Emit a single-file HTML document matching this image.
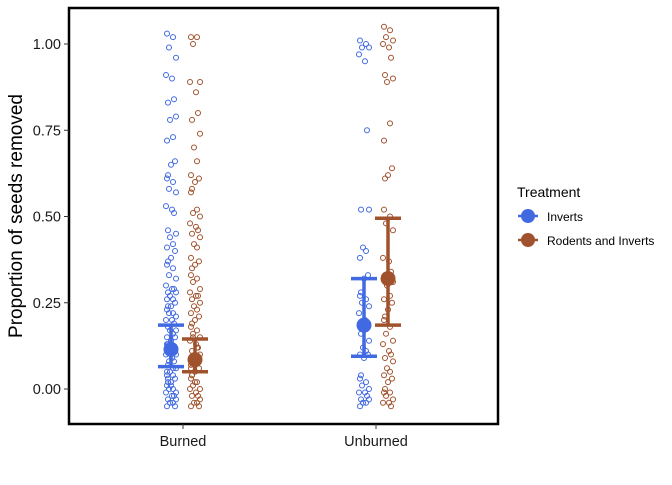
<!DOCTYPE html>
<html><head><meta charset="utf-8"><style>
body{margin:0;background:#fff;font-family:"Liberation Sans",sans-serif}
</style></head><body>
<svg id="chart" width="672" height="480" xmlns="http://www.w3.org/2000/svg">
<rect x="0" y="0" width="672" height="480" fill="#fff"/>
<g id="plot"></g>
<rect x="69" y="8" width="429" height="416" fill="none" stroke="#000" stroke-width="2.5"/>
<g id="axes" font-size="14.5" fill="#1a1a1a"></g>
<text x="22" y="216" transform="rotate(-90 22 216)" text-anchor="middle" font-size="19" fill="#000">Proportion of seeds removed</text>
<g>
<text x="517" y="197" font-size="14" fill="#000">Treatment</text>
<circle cx="528" cy="216" r="7" fill="#4169E1"/>
<line x1="518" y1="216" x2="538" y2="216" stroke="#4169E1" stroke-width="2.5"/>
<text x="547" y="221" font-size="12" fill="#000">Inverts</text>
<circle cx="528" cy="240" r="7" fill="#A0522D"/>
<line x1="518" y1="240" x2="538" y2="240" stroke="#A0522D" stroke-width="2.5"/>
<text x="547" y="245" font-size="12" fill="#000">Rodents and Inverts</text>
</g>
</svg>
<script>
const categories=["Burned","Unburned"];
const treatments=["Inverts","Rodents and Inverts"];
const yTicks=[0,0.25,0.5,0.75,1.0];
const yTickLabels=["0.00","0.25","0.50","0.75","1.00"];
const means=[[0.115,0.085],[0.185,0.32]];
const ciLow=[[0.065,0.05],[0.095,0.185]];
const ciHigh=[[0.185,0.145],[0.32,0.495]];
const burnedInverts=[1.03,1.02,0.99,0.96,0.91,0.90,0.84,0.83,0.79,0.78,0.73,0.72,0.66,0.65,0.62,0.61,0.60,0.58,0.57,0.53,0.52,0.51,0.46,0.45,0.44,0.42,0.41,0.40,0.38,0.37,0.36,0.35,0.33,0.32,0.30,0.29,0.29,0.28,0.28,0.27,0.26,0.26,0.25,0.24,0.24,0.23,0.22,0.22,0.21,0.20,0.20,0.19,0.18,0.17,0.17,0.16,0.15,0.15,0.14,0.13,0.13,0.12,0.11,0.10,0.10,0.09,0.08,0.07,0.06,0.05,0.04,0.04,0.03,0.02,0.02,0.01,0.0,0.0,-0.01,-0.01,-0.02,-0.02,-0.03,-0.03,-0.04,-0.04,-0.05,-0.05,0.01,0.03,0.05,0.06,0.08];
const burnedRodents=[1.02,1.02,1.00,0.89,0.89,0.86,0.80,0.78,0.74,0.70,0.66,0.62,0.61,0.60,0.58,0.57,0.52,0.51,0.50,0.48,0.47,0.46,0.45,0.44,0.42,0.41,0.38,0.37,0.36,0.35,0.33,0.32,0.31,0.29,0.28,0.27,0.27,0.26,0.25,0.24,0.23,0.22,0.21,0.20,0.19,0.18,0.17,0.16,0.15,0.14,0.13,0.12,0.11,0.10,0.09,0.08,0.07,0.06,0.05,0.04,0.03,0.02,0.01,0.0,0.0,-0.01,-0.02,-0.02,-0.03,-0.04,-0.04,-0.05,-0.05,0.02,0.04,0.06,0.12,0.15];
const unburnedInverts=[1.01,1.00,0.99,0.99,0.97,0.95,0.75,0.52,0.52,0.41,0.40,0.38,0.33,0.32,0.28,0.27,0.26,0.25,0.24,0.22,0.20,0.18,0.16,0.14,0.12,0.11,0.10,0.10,0.09,0.04,0.03,0.02,0.01,0.0,-0.01,-0.01,-0.02,-0.03,-0.03,-0.04,-0.04,-0.05];
const unburnedRodents=[1.05,1.04,1.02,1.01,1.00,0.99,0.96,0.91,0.90,0.89,0.77,0.72,0.64,0.62,0.61,0.52,0.50,0.48,0.46,0.38,0.37,0.34,0.33,0.31,0.30,0.27,0.26,0.25,0.23,0.21,0.20,0.18,0.16,0.14,0.13,0.11,0.10,0.09,0.08,0.06,0.05,0.04,0.03,0.02,0.00,-0.01,-0.01,-0.02,-0.03,-0.04,-0.04,-0.05];
const series=[[burnedInverts,burnedRodents],[unburnedInverts,unburnedRodents]];
const colors=["#4169E1","#A0522D"];
const NS="http://www.w3.org/2000/svg";
function yScale(v){return 389-v*345;}
function xScale(ci,ti){return 183+ci*193+(ti===0?-12:12);}
const plot=document.getElementById('plot'),axes=document.getElementById('axes');
function mk(tag,a,parent){const e=document.createElementNS(NS,tag);for(const k in a)e.setAttribute(k,a[k]);parent.appendChild(e);return e;}
yTicks.forEach((t,i)=>{
 const l=mk('line',{x1:64,x2:69,y1:yScale(t),y2:yScale(t),stroke:'#333','stroke-width':1},axes);
 
 
 const tx=mk('text',{x:61,y:yScale(t)+5,'text-anchor':'end'},axes);tx.textContent=yTickLabels[i];
 
 
});
categories.forEach((c,i)=>{
 const cx=183+i*193;
 const l=mk('line',{x1:cx,x2:cx,y1:424,y2:429,stroke:'#333'},axes);
 
 
 const tx=mk('text',{x:cx,y:446,'text-anchor':'middle'},axes);tx.textContent=c;
 
 
});
const jit=[-4,2,-2,5,-5,1,3,-3,5,-1,2,-4,4,0,-3];
series.forEach((grp,ci)=>grp.forEach((vals,ti)=>{
 vals.forEach((v,k)=>{
  const p=mk('circle',{cx:xScale(ci,ti)+jit[k%jit.length],cy:yScale(v),r:2.5,fill:'none',stroke:colors[ti],'stroke-width':1},plot);
  
  
 });
}));
series.forEach((grp,ci)=>grp.forEach((vals,ti)=>{
 const x=xScale(ci,ti),c=colors[ti];
 const e=mk('line',{x1:x,x2:x,y1:yScale(ciLow[ci][ti]),y2:yScale(ciHigh[ci][ti]),stroke:c,'stroke-width':3.5},plot);
 
 
 [ciLow[ci][ti],ciHigh[ci][ti]].forEach(v=>{
  const cap=mk('line',{x1:x-13,x2:x+13,y1:yScale(v),y2:yScale(v),stroke:c,'stroke-width':3.5},plot);
  
  
 });
 const m=mk('circle',{cx:x,cy:yScale(means[ci][ti]),r:7.5,fill:c},plot);
 
 
}));
</script>
</body></html>
